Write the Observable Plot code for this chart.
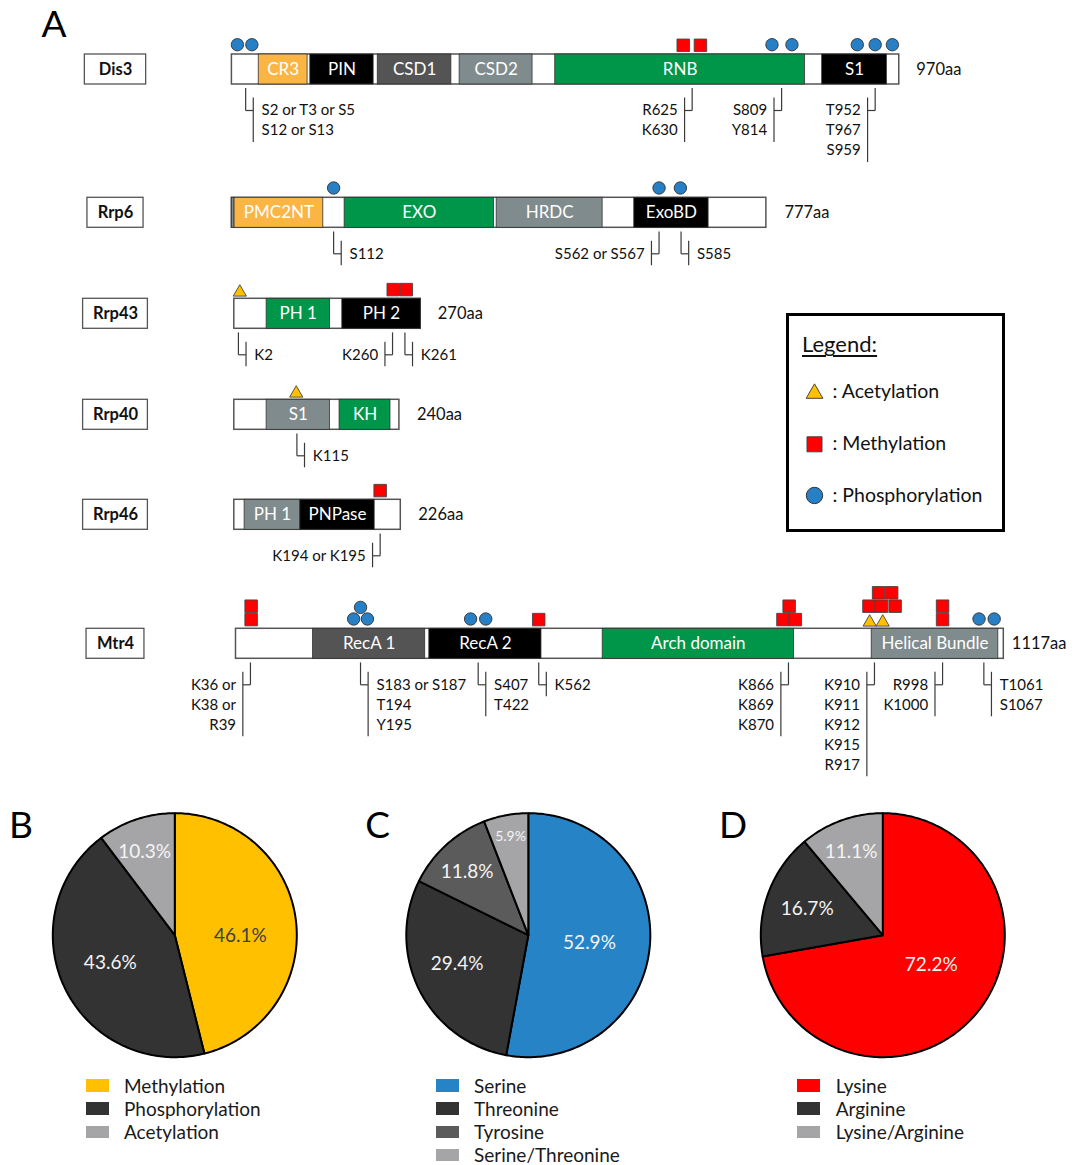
<!DOCTYPE html>
<html>
<head>
<meta charset="utf-8">
<script src="https://cdn.jsdelivr.net/npm/d3@7"></script>
<script src="https://cdn.jsdelivr.net/npm/@observablehq/plot@0.6"></script>
<style>
  html, body { margin: 0; padding: 0; background: #fff; }
  #fig { position: relative; width: 1080px; height: 1165px; overflow: hidden; background: #fff;
         font-family: Lato, "Open Sans", sans-serif; color: #1a1a1a; }
  #fig > * { position: absolute; }
  .swatch { width: 23px; height: 12.4px; }
  .lg-text { font-size: 19px; line-height: 1; white-space: nowrap; color: #1a1a1a; }
</style>
</head>
<body>
<div id="fig"></div>
<script>
// ================= DATA =================
const proteins = ["Dis3", "Rrp6", "Rrp43", "Rrp40", "Rrp46", "Mtr4"];
const lengthLabels = ["970aa", "777aa", "270aa", "240aa", "226aa", "1117aa"];
const drawnLengths = [970, 777, 271, 240, 242, 1116]; // bar extent as drawn (aa)

// domains: [label, start aa, end aa, colour kind]
const dis3Domains = [["CR3", 39, 110, "orange"], ["PIN", 114, 206, "black"], ["CSD1", 212, 319, "dark"],
                     ["CSD2", 331, 437, "slate"], ["RNB", 470, 833, "green"], ["S1", 858, 952, "black"]];
const rrp6Domains = [["", 0, 4, "slate"], ["PMC2NT", 4, 133, "orange"], ["EXO", 164, 381, "green"],
                     ["HRDC", 385, 539, "slate"], ["ExoBD", 585, 693, "black"]];
const rrp43Domains = [["PH 1", 47, 139, "green"], ["PH 2", 157, 271, "black"]];
const rrp40Domains = [["S1", 47, 139, "slate"], ["KH", 153, 227, "green"]];
const rrp46Domains = [["PH 1", 15, 96, "slate"], ["PNPase", 96, 204, "black"]];
const mtr4Domains = [["RecA 1", 112, 275, "dark"], ["RecA 2", 281, 444, "black"],
                     ["Arch domain", 533, 811, "green"], ["Helical Bundle", 924, 1108, "slate"]];

// modification marks: [type (A acetyl, M methyl, P phospho), drawn position aa, stack level]
const dis3Sites = [["P", 8, 0], ["P", 29, 0], ["M", 656, 0], ["M", 681, 0], ["P", 785, 0], ["P", 814, 0],
                   ["P", 909, 0], ["P", 935, 0], ["P", 960, 0]];
const rrp6Sites = [["P", 148, 0], ["P", 621, 0], ["P", 652, 0]];
const rrp43Sites = [["A", 8, 0], ["M", 231, 0], ["M", 250, 0]];
const rrp40Sites = [["A", 90, 0]];
const rrp46Sites = [["M", 212, 0]];
const mtr4Sites = [["M", 22, 0], ["M", 22, 1], ["P", 171, 0], ["P", 191, 0], ["P", 181, 1], ["P", 341, 0],
                   ["P", 363, 0], ["M", 440, 0], ["M", 795, 0], ["M", 813, 0], ["M", 804, 1], ["A", 921, 0],
                   ["A", 940, 0], ["M", 920, 1], ["M", 938, 1], ["M", 958, 1], ["M", 934, 2], ["M", 953, 2],
                   ["M", 1027, 0], ["M", 1027, 1], ["P", 1080, 0], ["P", 1102, 0]];

// site annotations: [site aa, side of text, lines]
const dis3Notes = [[20, "right", ["S2 or T3 or S5", "S12 or S13"]], [669, "left", ["R625", "K630"]],
                   [799, "left", ["S809", "Y814"]], [935, "left", ["T952", "T967", "S959"]]];
const rrp6Notes = [[148, "right", ["S112"]], [621, "left", ["S562 or S567"]], [653, "right", ["S585"]]];
const rrp43Notes = [[6, "right", ["K2"]], [230, "left", ["K260"]], [248, "right", ["K261"]]];
const rrp40Notes = [[91, "right", ["K115"]]];
const rrp46Notes = [[212, "left", ["K194 or K195"]]];
const mtr4Notes = [[21, "left", ["K36 or", "K38 or", "R39"]], [181, "right", ["S183 or S187", "T194", "Y195"]],
                   [352, "right", ["S407", "T422"]], [440, "right", ["K562"]],
                   [803, "left", ["K866", "K869", "K870"]], [928, "left", ["K910", "K911", "K912", "K915", "R917"]],
                   [1027, "left", ["R998", "K1000"]], [1087, "right", ["T1061", "S1067"]]];

// legend of modification types
const ptmTypes = ["Acetylation", "Methylation", "Phosphorylation"];

// pie charts
const ptmShareNames = ["Methylation", "Phosphorylation", "Acetylation"];
const ptmShareValues = [46.1, 43.6, 10.3];
const phosResidueNames = ["Serine", "Threonine", "Tyrosine", "Serine/Threonine"];
const phosResidueValues = [52.9, 29.4, 11.8, 5.9];
const methResidueNames = ["Lysine", "Arginine", "Lysine/Arginine"];
const methResidueValues = [72.2, 16.7, 11.1];

// ================= STYLE / LAYOUT =================
const COLORS = {orange: "#FBB545", black: "#000000", dark: "#545454", slate: "#7F8B8C", green: "#00964A"};
const MARK_COLORS = {A: "#FFC000", M: "#FF0000", P: "#2780C6"};
const PXAA = 0.688, X_ORIGIN = 232;
const ROW_Y = [69, 212.3, 313.3, 414.3, 514.3, 643.3];
const ROW_X0 = [231.4, 231.3, 233.8, 233.8, 233.8, 235.5];
const LEN_DX = [17, 18, 17, 17.5, 17.5, 8];
const BOX_W = [61.3, 56.1, 64.8, 64.8, 64.8, 57.9];
const BOX_CX = 115, BAR_H = 30;
const STEM_GAP = 3.6, FIRST_LINE = 41, LINE_STEP = 20, CONN_PX = 7.6;
const MARK_BASE = {P: -24.8, M: -24.2, A: -21.5};
const MARK_STEP = {P: 11.6, M: 13.4, A: 13.4};
const FONT = "Lato, 'Open Sans', sans-serif";
const toAA = px => (px - X_ORIGIN) / PXAA;

const fig = document.getElementById("fig");
function place(el, left, top) { el.style.position = "absolute"; el.style.left = left + "px"; el.style.top = top + "px"; fig.appendChild(el); return el; }

// ================= PANEL A =================
const domainLists = [dis3Domains, rrp6Domains, rrp43Domains, rrp40Domains, rrp46Domains, mtr4Domains];
const siteLists = [dis3Sites, rrp6Sites, rrp43Sites, rrp40Sites, rrp46Sites, mtr4Sites];
const noteLists = [dis3Notes, rrp6Notes, rrp43Notes, rrp40Notes, rrp46Notes, mtr4Notes];

const rows = proteins.map((p, i) => {
  const off = toAA(ROW_X0[i]);
  return {i, name: p, y: ROW_Y[i], off, end: off + drawnLengths[i], len: lengthLabels[i],
          bx1: toAA(BOX_CX - BOX_W[i] / 2), bx2: toAA(BOX_CX + BOX_W[i] / 2)};
});
const domainRecs = rows.flatMap(r => domainLists[r.i].map(([name, s, e, kind]) =>
  ({name, kind, x1: r.off + s, x2: r.off + e, y: r.y})));
const markRecs = rows.flatMap(r => siteLists[r.i].map(([t, pos, lvl]) =>
  ({t, x: r.off + pos, y: r.y + MARK_BASE[t] - lvl * MARK_STEP[t]})));
const linkSegs = [], noteTexts = [];
rows.forEach(r => noteLists[r.i].forEach(([pos, side, lines]) => {
  const sx = r.off + pos, dir = side === "right" ? 1 : -1, cx = sx + dir * CONN_PX / PXAA;
  const y0 = r.y + BAR_H / 2 + STEM_GAP, yl = r.y + FIRST_LINE, ylast = yl + (lines.length - 1) * LINE_STEP;
  linkSegs.push({x1: sx, y1: y0, x2: sx, y2: yl}, {x1: sx, y1: yl, x2: cx, y2: yl},
                {x1: cx, y1: yl - 13, x2: cx, y2: ylast + 11.5});
  lines.forEach((t, k) => noteTexts.push({x: cx, y: yl + k * LINE_STEP, text: t, side}));
}));

const plotA = Plot.plot({
  width: 1080, height: 790, margin: 0,
  x: {domain: [toAA(0), toAA(1080)], range: [0, 1080], axis: null},
  y: {domain: [0, 790], range: [0, 790], axis: null},
  color: {type: "identity"},
  style: {fontFamily: FONT, background: "transparent", overflow: "visible"},
  marks: [
    Plot.rect(rows, {x1: "bx1", x2: "bx2", y1: d => d.y - BAR_H / 2, y2: d => d.y + BAR_H / 2,
                     fill: "#fff", stroke: "#555", strokeWidth: 1.3}),
    Plot.text(rows, {x: d => (d.bx1 + d.bx2) / 2, y: "y", text: "name", fontWeight: "bold", fontSize: 16.5, fill: "#111"}),
    Plot.rect(rows, {x1: "off", x2: "end", y1: d => d.y - BAR_H / 2, y2: d => d.y + BAR_H / 2,
                     fill: "#fff", stroke: "#555", strokeWidth: 1.5}),
    Plot.rect(domainRecs, {x1: "x1", x2: "x2", y1: d => d.y - BAR_H / 2, y2: d => d.y + BAR_H / 2,
                           fill: d => COLORS[d.kind], stroke: "#333", strokeWidth: 0.8}),
    Plot.text(domainRecs.filter(d => d.name), {x: d => (d.x1 + d.x2) / 2, y: "y", text: "name", fill: "#fff", fontSize: 17}),
    Plot.text(rows, {x: d => d.end + LEN_DX[d.i] / PXAA, y: "y", text: "len", textAnchor: "start", fontSize: 16.5, fill: "#111"}),
    Plot.link(linkSegs, {x1: "x1", y1: "y1", x2: "x2", y2: "y2", stroke: "#3a3a3a", strokeWidth: 1.2}),
    Plot.text(noteTexts.filter(d => d.side === "right"), {x: "x", y: "y", text: "text", textAnchor: "start", dx: 8.3, fontSize: 15, fill: "#111"}),
    Plot.text(noteTexts.filter(d => d.side === "left"), {x: "x", y: "y", text: "text", textAnchor: "end", dx: -6.8, fontSize: 15, fill: "#111"}),
    Plot.dot(markRecs.filter(d => d.t === "P"), {x: "x", y: "y", r: 6.2, fill: MARK_COLORS.P, stroke: "#333", strokeWidth: 0.9}),
    Plot.dot(markRecs.filter(d => d.t === "M"), {x: "x", y: "y", symbol: "square", r: 7.05, fill: MARK_COLORS.M, stroke: "#444", strokeWidth: 0.9}),
    Plot.dot(markRecs.filter(d => d.t === "A"), {x: "x", y: "y", symbol: "triangle", r: 4.9, fill: MARK_COLORS.A, stroke: "#444", strokeWidth: 0.9}),
    Plot.text(["A"], {text: d => d, frameAnchor: "top-left", textAnchor: "start", lineAnchor: "top", dx: 41, dy: 10, fontSize: 37, fill: "#000"})
  ]
});
place(plotA, 0, 0);

// legend box of panel A
const box = document.createElement("div");
Object.assign(box.style, {width: "219.5px", height: "218.4px", border: "3px solid #000", boxSizing: "border-box", background: "#fff"});
place(box, 785.5, 313.3);
const lgTitle = document.createElement("div");
lgTitle.textContent = "Legend:";
Object.assign(lgTitle.style, {fontSize: "22px", lineHeight: "1", textDecoration: "underline", textUnderlineOffset: "3px",
                              textDecorationThickness: "1.5px", whiteSpace: "nowrap", color: "#111"});
place(lgTitle, 802, 333.4);
const legendPlot = Plot.plot({
  width: 219.5, height: 218.4, margin: 0,
  y: {type: "point", domain: ptmTypes, range: [390.7 - 313.3, 496 - 313.3], padding: 0, axis: null},
  color: {domain: ptmTypes, range: [MARK_COLORS.A, MARK_COLORS.M, MARK_COLORS.P]},
  style: {fontFamily: FONT, background: "transparent", overflow: "visible"},
  marks: [
    Plot.dot(["Acetylation"], {y: d => d, fill: d => d, symbol: "triangle", r: 6.2, frameAnchor: "left", dx: 28, dy: 2, stroke: "#444", strokeWidth: 1}),
    Plot.dot(["Methylation"], {y: d => d, fill: d => d, symbol: "square", r: 8.47, frameAnchor: "left", dx: 28, dy: 0.8, stroke: "#444", strokeWidth: 1}),
    Plot.dot(["Phosphorylation"], {y: d => d, fill: d => d, r: 8.2, frameAnchor: "left", dx: 28, stroke: "#333", strokeWidth: 1}),
    Plot.text(ptmTypes, {y: d => d, text: d => ": " + d, frameAnchor: "left", textAnchor: "start", dx: 46, fontSize: 19.5, fill: "#111"})
  ]
});
place(legendPlot, 785.5, 313.3);

// ================= PIES =================
function wedges(values, names) {
  const total = d3.sum(values);
  let acc = 0;
  const pts = [];
  values.forEach((v, i) => {
    const a0 = acc / total * 2 * Math.PI; acc += v;
    const a1 = acc / total * 2 * Math.PI;
    const n = Math.max(2, Math.ceil((a1 - a0) / (Math.PI / 180)));
    pts.push({name: names[i], x: 0, y: 0});
    for (let k = 0; k <= n; k++) {
      const a = a0 + (a1 - a0) * k / n;
      pts.push({name: names[i], x: Math.sin(a), y: Math.cos(a)});
    }
    pts.push({name: names[i], x: 0, y: 0});
  });
  return pts;
}

function pie({letter, names, values, colors, left, cx, letterDx, labelK, labelNudge, labelDark, labelSize}) {
  const W = 360, H = 280, TOP = 790, R = 122, CY = 934.7;
  const icx = cx - left, icy = CY - TOP;
  const total = d3.sum(values);
  let acc = 0;
  const labels = values.map((v, i) => {
    const mid = (acc + v / 2) / total * 360 + labelNudge[i]; acc += v;
    const a = mid * Math.PI / 180;
    return {x: labelK[i] * Math.sin(a), y: labelK[i] * Math.cos(a), text: v.toFixed(1) + "%", dark: labelDark[i], size: labelSize[i]};
  });
  const p = Plot.plot({
    width: W, height: H, margin: 0,
    x: {domain: [-icx / R, (W - icx) / R], axis: null},
    y: {domain: [-(H - icy) / R, icy / R], axis: null},
    color: {domain: names, range: colors},
    style: {fontFamily: FONT, background: "transparent", overflow: "visible"},
    marks: [
      Plot.line(wedges(values, names), {x: "x", y: "y", z: "name", fill: "name", stroke: "#000", strokeWidth: 2, strokeLinejoin: "round"}),
      Plot.text(labels.filter(d => !d.dark), {x: "x", y: "y", text: "text", fontSize: "size", fill: "#F4F4F4"}),
      Plot.text(labels.filter(d => d.dark), {x: "x", y: "y", text: "text", fontSize: "size", fill: "#404040"}),
      Plot.text([letter], {text: d => d, frameAnchor: "top-left", textAnchor: "start", lineAnchor: "top", dx: letterDx, dy: 21.7, fontSize: 37, fill: "#000"})
    ]
  });
  place(p, left, TOP);
}

function pieLegend(names, colors, swatchLeft, textLeft) {
  names.forEach((n, i) => {
    const c = 1085.5 + i * 23.1;
    const sw = document.createElement("div");
    sw.className = "swatch"; sw.style.background = colors[i];
    place(sw, swatchLeft, c - 6.2);
    const t = document.createElement("div");
    t.className = "lg-text"; t.textContent = n;
    place(t, textLeft - 1, c - 10);
  });
}

const ptmShareColors = ["#FFC000", "#333333", "#A5A5A8"];
const phosResidueColors = ["#2683C6", "#333333", "#5B5B5B", "#A5A5A8"];
const methResidueColors = ["#FF0000", "#333333", "#A5A5A8"];

pie({letter: "B", names: ptmShareNames, values: ptmShareValues, colors: ptmShareColors, left: 0, cx: 174.3, letterDx: 8.4,
     labelK: [0.537, 0.575, 0.726], labelNudge: [7.9, 2.5, -1.4], labelDark: [true, false, false], labelSize: [19, 19, 19]});
pie({letter: "C", names: phosResidueNames, values: phosResidueValues, colors: phosResidueColors, left: 360, cx: 527.8, letterDx: 4.8,
     labelK: [0.505, 0.63, 0.72, 0.82], labelNudge: [1.5, 4.6, -1.7, 0.4], labelDark: [false, false, false, false], labelSize: [19, 19, 19, 14]});
pie({letter: "D", names: methResidueNames, values: methResidueValues, colors: methResidueColors, left: 720, cx: 882.3, letterDx: -1.6,
     labelK: [0.467, 0.657, 0.73], labelNudge: [-8.2, -0.5, -0.8], labelDark: [false, false, false], labelSize: [19, 19, 19]});

pieLegend(ptmShareNames, ptmShareColors, 85.7, 125);
pieLegend(phosResidueNames, phosResidueColors, 436, 475);
pieLegend(methResidueNames, methResidueColors, 797.3, 836.7);
</script>
</body>
</html>
